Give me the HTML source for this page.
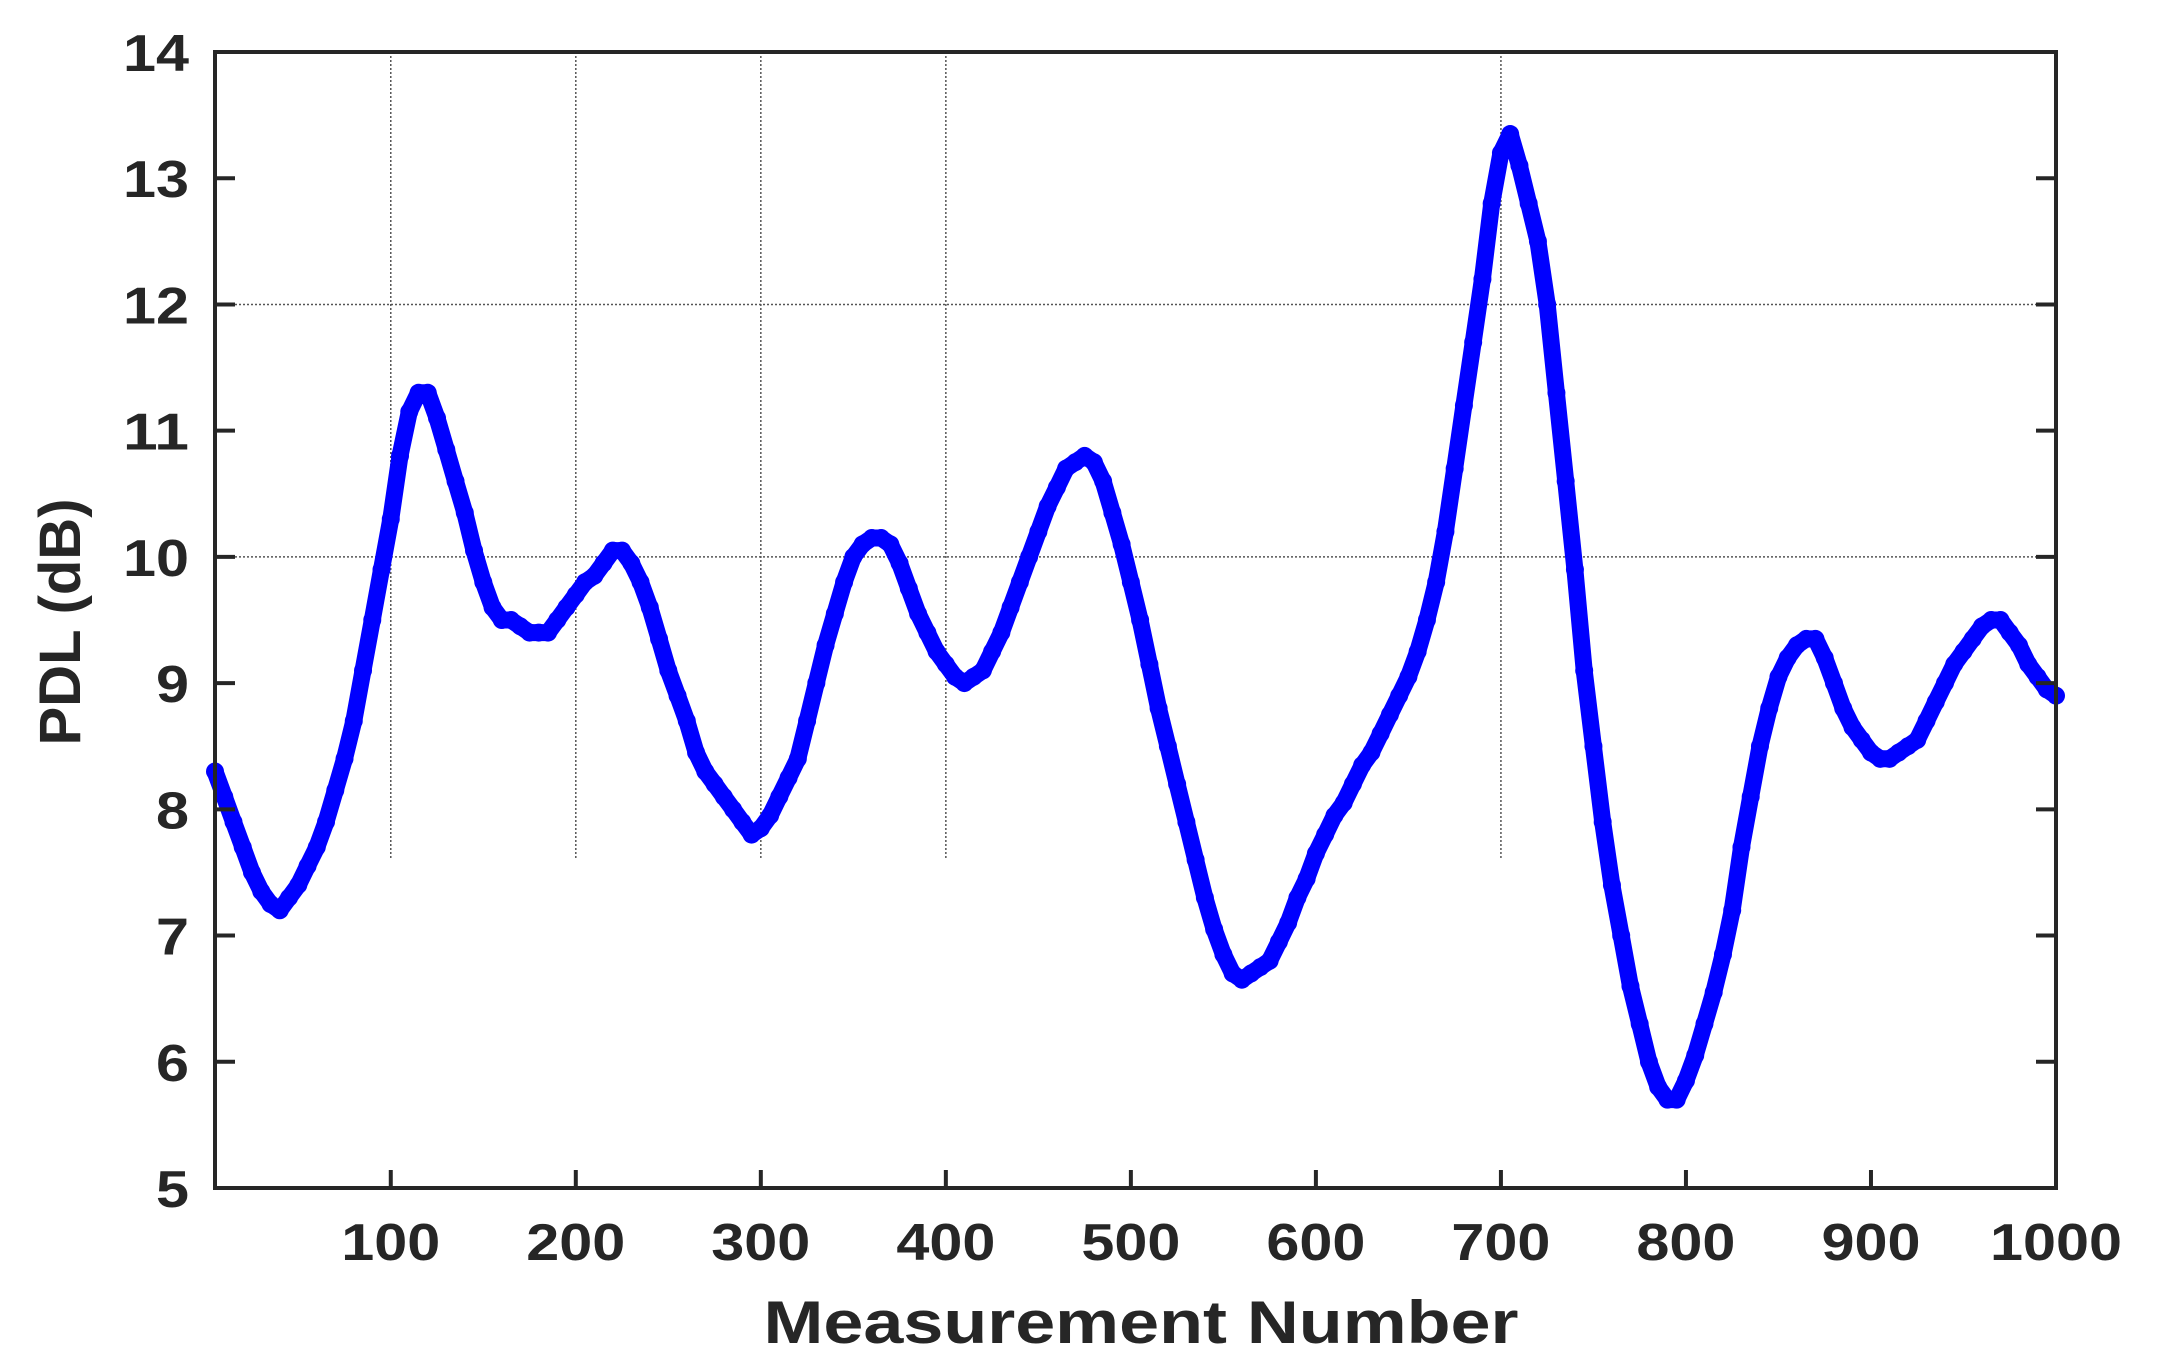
<!DOCTYPE html>
<html><head><meta charset="utf-8"><style>
html,body{margin:0;padding:0;background:#fff;}
svg text{font-family:"Liberation Sans",Arial,sans-serif;font-weight:bold;fill:#262626;}
</style></head><body>
<svg id="chart" width="2157" height="1357" viewBox="0 0 2157 1357" xmlns="http://www.w3.org/2000/svg">
<rect x="0" y="0" width="2157" height="1357" fill="#fff"/>
<g id="grid"></g>
<g id="series"></g>
<g id="axes"></g>
<text x="1141" y="1343" font-size="60" text-anchor="middle" textLength="755" lengthAdjust="spacingAndGlyphs">Measurement Number</text>
<text transform="translate(80,622) rotate(-90)" font-size="58" text-anchor="middle">PDL (dB)</text>
</svg>
<script>
const xTicks = [100,200,300,400,500,600,700,800,900,1000];
const yTicks = [5,6,7,8,9,10,11,12,13,14];
const vGrid = [100,200,300,400,700];
const hGrid = [10,12];
const measurement = [];
for (let i = 5; i <= 1000; i += 5) measurement.push(i);
const pdl = [8.3,8.1,7.9,7.7,7.5,7.35,7.25,7.2,7.3,7.4,7.55,7.7,7.9,8.15,8.4,8.7,9.1,9.5,9.9,10.3,
10.8,11.15,11.3,11.3,11.1,10.85,10.6,10.35,10.05,9.8,9.6,9.5,9.5,9.45,9.4,9.4,9.4,9.5,9.6,9.7,
9.8,9.85,9.95,10.05,10.05,9.95,9.8,9.6,9.35,9.1,8.9,8.7,8.45,8.3,8.2,8.1,8.0,7.9,7.8,7.85,
7.95,8.1,8.25,8.4,8.7,9.0,9.3,9.55,9.8,10.0,10.1,10.15,10.15,10.1,9.95,9.75,9.55,9.4,9.25,9.15,
9.05,9.0,9.05,9.1,9.25,9.4,9.6,9.8,10.0,10.2,10.4,10.55,10.7,10.75,10.8,10.75,10.6,10.35,10.1,9.8,
9.5,9.15,8.8,8.5,8.2,7.9,7.6,7.3,7.05,6.85,6.7,6.65,6.7,6.75,6.8,6.95,7.1,7.3,7.45,7.65,
7.8,7.95,8.05,8.2,8.35,8.45,8.6,8.75,8.9,9.05,9.25,9.5,9.8,10.2,10.7,11.2,11.7,12.2,12.8,13.2,
13.35,13.1,12.8,12.5,12.0,11.3,10.6,9.9,9.1,8.5,7.9,7.4,7.0,6.6,6.3,6.0,5.8,5.7,5.7,5.85,
6.05,6.3,6.55,6.85,7.2,7.7,8.1,8.5,8.8,9.05,9.2,9.3,9.35,9.35,9.2,9.0,8.8,8.65,8.55,8.45,
8.4,8.4,8.45,8.5,8.55,8.7,8.85,9.0,9.15,9.25,9.35,9.45,9.5,9.5,9.4,9.3,9.15,9.05,8.95,8.9];

const L=215,R=2056,T=52,B=1188, XMIN=5, XMAX=1000, YMIN=5, YMAX=14;
function xs(v){return L+(v-XMIN)/(XMAX-XMIN)*(R-L);}
function ys(v){return B-(v-YMIN)/(YMAX-YMIN)*(B-T);}
const NS='http://www.w3.org/2000/svg';
function mk(tag,attrs,parent){const e=document.createElementNS(NS,tag);for(const k in attrs)e.setAttribute(k,attrs[k]);parent.appendChild(e);return e;}
const grid=document.getElementById('grid'), ser=document.getElementById('series'), ax=document.getElementById('axes');

vGrid.forEach(v=>{
  const l=mk('line',{x1:xs(v),x2:xs(v),y1:T,y2:ys(7.6),stroke:'#555','stroke-width':1.5,'stroke-dasharray':'2,2'},grid);
  
  
});
hGrid.forEach(v=>{
  const l=mk('line',{x1:L,x2:R,y1:ys(v),y2:ys(v),stroke:'#555','stroke-width':1.5,'stroke-dasharray':'2,2'},grid);
  
  
});

let pts=measurement.map((m,i)=>xs(m).toFixed(1)+','+ys(pdl[i]).toFixed(1)).join(' ');
const pl=mk('polyline',{points:pts,fill:'none',stroke:'#0000ff','stroke-width':17,'stroke-linejoin':'round','stroke-linecap':'round'},ser);


measurement.forEach((m,i)=>{
  const c=mk('circle',{cx:xs(m),cy:ys(pdl[i]),r:9,fill:'#0000ff'},ser);
  
  
});

const frame=mk('rect',{x:L,y:T,width:R-L,height:B-T,fill:'none',stroke:'#262626','stroke-width':4},ax);



xTicks.forEach(v=>{
  const x=xs(v);
  const t=mk('line',{x1:x,x2:x,y1:B,y2:B-18,stroke:'#262626','stroke-width':4},ax);
  
  
  const lb=mk('text',{x:x,y:1260,'font-size':52,'text-anchor':'middle',textLength:String(v).length*33,lengthAdjust:'spacingAndGlyphs'},ax);
  lb.textContent=v;
  
  
});
yTicks.forEach(v=>{
  const y=ys(v);
  const t=mk('line',{x1:L,x2:L+20,y1:y,y2:y,stroke:'#262626','stroke-width':4},ax);
  
  
  const t2=mk('line',{x1:R,x2:R-20,y1:y,y2:y,stroke:'#262626','stroke-width':4},ax);
  
  
  const lb=mk('text',{x:189,y:y+19,'font-size':52,'text-anchor':'end',textLength:String(v).length*33,lengthAdjust:'spacingAndGlyphs'},ax);
  lb.textContent=v;
  
  
});
</script>
</body></html>
